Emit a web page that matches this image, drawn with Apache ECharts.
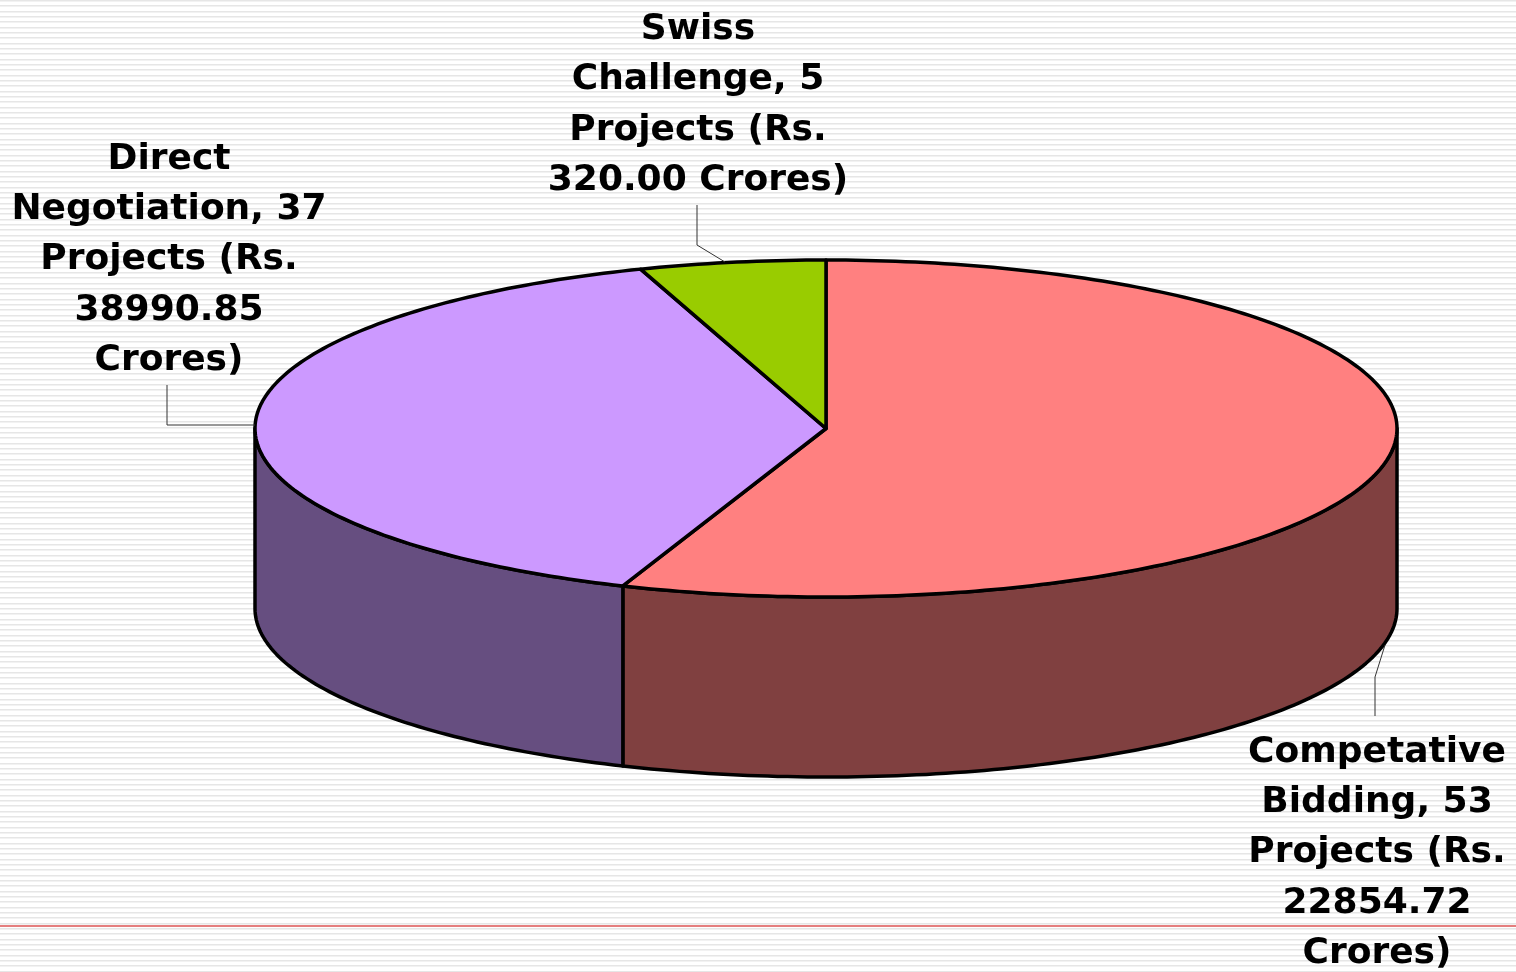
<!DOCTYPE html>
<html>
<head>
<meta charset="utf-8">
<title>Projects by procurement mode</title>
<style>
    html, body { margin: 0; padding: 0; width: 100%; height: 100%; overflow: hidden; }
    body {
        background: repeating-linear-gradient(to bottom,
            #e6e6e6 0, #e6e6e6 1px, #f2f2f2 1px, #f2f2f2 2px, #ffffff 2px, #ffffff 5px,
            #e6e6e6 5px, #e6e6e6 6px, #f2f2f2 6px, #f2f2f2 7px, #ffffff 7px, #ffffff 11px,
            #e6e6e6 11px, #e6e6e6 12px, #f2f2f2 12px, #f2f2f2 13px, #ffffff 13px, #ffffff 16px);
    }
    #chart { width: 1516px; height: 972px; }
</style>
</head>
<body>
<div id="chart"></div>
<script src="https://cdn.jsdelivr.net/npm/echarts@6/dist/echarts.min.js"></script>
<script>
// 数据
const categories = ['Competative\nBidding', 'Direct\nNegotiation', 'Swiss\nChallenge'];
const projects = [53, 37, 5];
const crores = ['22854.72\nCrores)', '38990.85\nCrores)', '320.00 Crores)'];
const topColors = ['#ff8080', '#cc99ff', '#99cc00'];
const sideColors = ['#804040', '#664e80', '#4c6600'];

(function () {
    let chart = echarts.init(document.querySelector('#chart'));

    // 椭圆位置
    const cx = 826, cy = 428.5, rx = 571, ry = 168.5, depth = 180;
    const labelPos = [[1377, 853], [169, 260], [698, 105]];
    const leaders = [
        [[1375, 716], [1375, 677], [1385, 645]],
        [[167, 385], [167, 425], [255, 425]],
        [[697, 205], [697, 245], [725, 262]]
    ];

    const total = projects.reduce((a, b) => a + b, 0);

    // 角度从正上方顺时针
    function pt(deg, dy) {
        const r = deg * Math.PI / 180;
        return [cx + rx * Math.sin(r), cy - ry * Math.cos(r) + (dy || 0)];
    }

    function arc(from, to, dy) {
        const pts = [];
        const n = Math.max(2, Math.ceil(Math.abs(to - from)));
        for (let i = 0; i <= n; i++) {
            pts.push(pt(from + (to - from) * i / n, dy));
        }
        return pts;
    }

    function renderSlice(params, api) {
        const i = params.dataIndex;
        let sum = 0;
        for (let k = 0; k < i; k++) sum += projects[k];
        const start = sum / total * 360;
        const end = (sum + api.value(0)) / total * 360;
        const line = { stroke: '#000', lineWidth: 3.5, lineJoin: 'round' };
        const children = [];

        // 侧面只画朝前的部分 (90 - 270 度)
        const a = Math.max(start, 90), b = Math.min(end, 270);
        if (b > a) {
            children.push({
                type: 'polygon',
                shape: { points: arc(a, b, 0).concat(arc(b, a, depth)) },
                style: Object.assign({ fill: sideColors[i] }, line)
            });
        }
        children.push({
            type: 'polygon',
            shape: { points: [[cx, cy]].concat(arc(start, end, 0)) },
            style: Object.assign({ fill: topColors[i] }, line)
        });
        children.push({
            type: 'polyline',
            shape: { points: leaders[i] },
            style: { stroke: '#333', lineWidth: 1, fill: null }
        });
        children.push({
            type: 'text',
            x: labelPos[i][0],
            y: labelPos[i][1],
            style: {
                text: categories[i] + ', ' + api.value(0) + '\nProjects (Rs.\n' + crores[i],
                fill: '#000',
                font: 'bold 36px "DejaVu Sans"',
                lineHeight: 50.3,
                align: 'center',
                verticalAlign: 'middle'
            }
        });
        return { type: 'group', children: children };
    }

    let option = {
        backgroundColor: 'transparent',
        animation: false,
        series: [
            {
                type: 'custom',
                coordinateSystem: 'none',
                renderItem: renderSlice,
                data: projects.map(v => [v]),
                silent: true
            }
        ],
        graphic: [
            {
                type: 'rect',
                z: -1,
                shape: { x: 0, y: 925, width: 1516, height: 2 },
                style: { fill: '#e57f7f' }
            }
        ]
    };

    chart.setOption(option);
})();
</script>
</body>
</html>
